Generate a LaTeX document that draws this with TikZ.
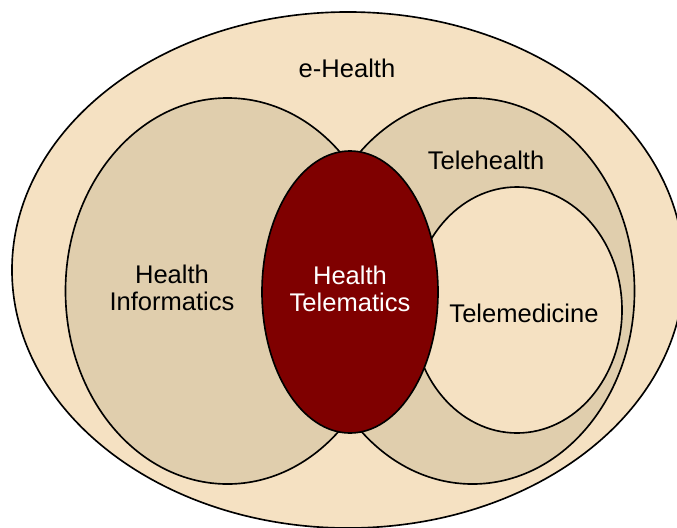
\documentclass[tikz,border=0pt]{standalone}
\usepackage{fontspec}
\setmainfont{Liberation Sans}
\usetikzlibrary{positioning, shapes.geometric}
\definecolor{cream}{RGB}{245,225,194}
\definecolor{beige}{RGB}{224,206,173}
\definecolor{maroon}{RGB}{127,0,0}

\begin{document}
\begin{tikzpicture}[x=0.03cm, y=-0.03cm,
    area/.style={draw, ellipse, line width=1.4pt, inner sep=0pt},
    tag/.style={font=\fontsize{21.8}{23}\selectfont, align=center}]
    \useasboundingbox (0,0) rectangle (677,527);
    \clip (0,0) rectangle (677,527);
    \node[area, fill=cream, minimum width=20.16cm, minimum height=15.48cm] (ehealth) at (348,270) {};
    \node[area, fill=beige, minimum width=9.72cm, minimum height=11.58cm] (informatics) at (227.5,291) {};
    \node[area, fill=beige, minimum width=9.72cm, minimum height=11.58cm] (telehealth) at (472.5,291) {};
    \node[area, fill=cream, minimum width=6.3cm, minimum height=7.38cm] (telemedicine) at (517,310) {};
    \node[area, fill=maroon, minimum width=5.28cm, minimum height=8.46cm] (telematics) at (350,292) {};
    % labels
    \node[tag] (ehealthtxt) at (347,68) {e-Health};
    \node[tag] (telehealthtxt) at (486,160) {Telehealth};
    \node[tag] (informaticstxt) at (172,288) {Health\\Informatics};
    \node[tag, text=white] (telematicstxt) at (350,289) {Health\\Telematics};
    \node[tag] (telemedicinetxt) at (524,313) {Telemedicine};
\end{tikzpicture}
\end{document}
